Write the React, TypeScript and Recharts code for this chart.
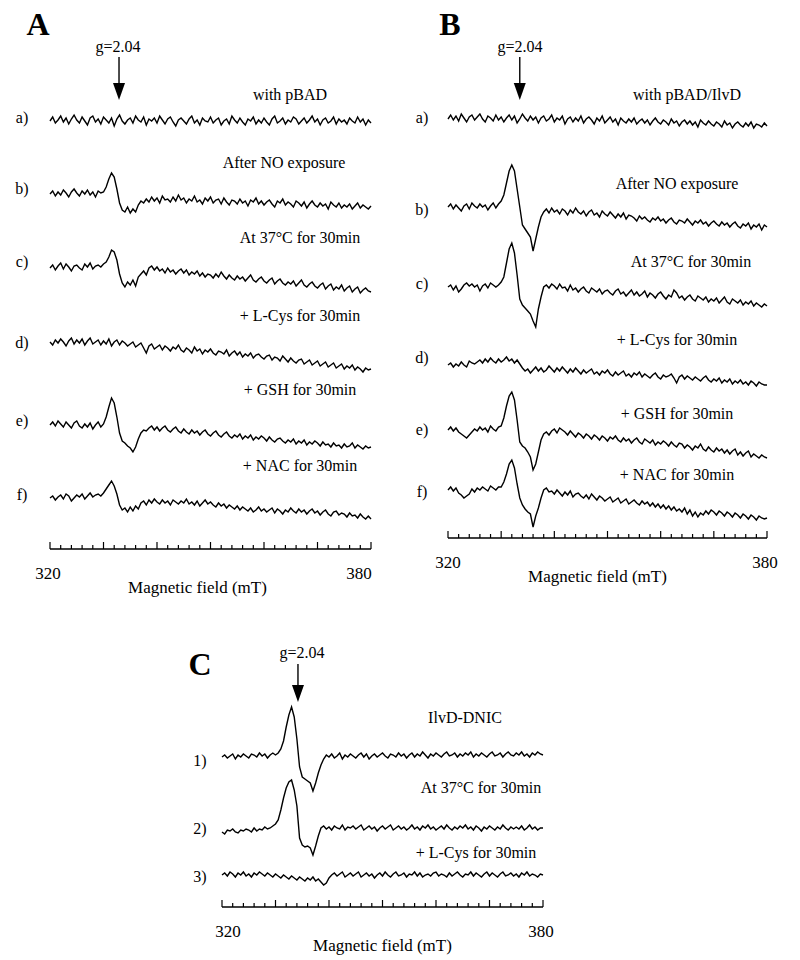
import React from 'react';
import { LineChart, Line, XAxis, YAxis, ReferenceLine } from 'recharts';

// field sweep: 320 -> 380 mT, one reading every 0.5 mT (121 points per spectrum)
const FIELD_START = 320;
const FIELD_STEP = 0.5;

const TICK_VALUES = [
  320, 322, 324, 326, 328, 330, 332, 334, 336, 338, 340, 342, 344, 346, 348, 350,
  352, 354, 356, 358, 360, 362, 364, 366, 368, 370, 372, 374, 376, 378, 380,
];
const MAJOR_TICKS = [320, 330, 340, 350, 360, 370, 380];
const LABELLED_TICKS = [320, 380];

const A_ROWS = ['a)', 'b)', 'c)', 'd)', 'e)', 'f)'];
const A_CONDITIONS = ['with pBAD', 'After NO exposure', 'At 37°C for 30min', '+ L-Cys for 30min', '+ GSH for 30min', '+ NAC for 30min'];
const B_ROWS = ['a)', 'b)', 'c)', 'd)', 'e)', 'f)'];
const B_CONDITIONS = ['with pBAD/IlvD', 'After NO exposure', 'At 37°C for 30min', '+ L-Cys for 30min', '+ GSH for 30min', '+ NAC for 30min'];
const C_ROWS = ['1)', '2)', '3)'];
const C_CONDITIONS = ['IlvD-DNIC', 'At 37°C for 30min', '+ L-Cys for 30min'];

// EPR signal, arbitrary units, relative to each trace's own baseline
const A_PBAD = [
  0, 4, -2, 1, 5, -1, 3, -3, 2, 6,
  1, -2, 4, 0, -4, 3, 5, -1, 2, -3,
  4, 1, -2, 3, -5, 2, 6, 0, -3, 1,
  3, -2, 5, 1, -1, 4, -4, 2, 0, 3,
  -2, 5, 1, -3, 2, 4, -1, -5, 1, 3,
  0, -3, 2, 5, -2, 1, -4, 3, 0, -1,
  4, -2, 1, 3, -4, 0, 2, -3, 5, 1,
  -2, 3, -1, -4, 2, 0, 4, -3, 1, -2,
  3, -1, -4, 2, 5, -2, 0, 3, -3, 1,
  -1, 4, 2, -3, 0, 3, -2, 1, 5, -1,
  2, -4, 1, 3, -2, 0, 4, -3, 2, -1,
  1, -3, 3, 0, -2, 4, -1, 2, -4, 1,
  -2,
];
const A_NO = [
  1, 4, -1, 3, 0, 5, 2, -2, 3, 6,
  2, -1, 4, 1, 5, 0, 3, -2, 4, 2,
  3, 8, 16, 22, 18, 6, -8, -15, -17, -12,
  -18, -14, -17, -10, -6, -8, -4, -7, -2, -6,
  -3, -8, -1, -5, -4, -7, -2, -6, 0, -5,
  -3, -8, -4, -6, -1, -7, -5, -9, -3, -6,
  -2, -8, -5, -4, -9, -3, -7, -10, -5, -6,
  -9, -4, -8, -6, -11, -5, -7, -3, -9, -6,
  -10, -7, -5, -9, -12, -6, -8, -4, -10, -7,
  -9, -12, -6, -8, -11, -7, -13, -9, -6, -10,
  -12, -8, -11, -9, -14, -7, -10, -12, -8, -13,
  -10, -12, -9, -14, -11, -8, -13, -10, -12, -14,
  -11,
];
const A_37C = [
  0, 3, -2, 2, 5, -1, 4, 1, -3, 2,
  3, 0, -2, 4, 1, 5, -1, 2, 3, 1,
  4, 6, 11, 18, 16, 8, -6, -15, -19, -14,
  -17, -12, -18, -9, -6, -3, -7, 0, 2, -2,
  1, -3, -1, -5, 0, -4, -2, -6, -3, -1,
  -5, -2, -7, -4, -6, -3, -8, -5, -9, -6,
  -7, -10, -6, -9, -4, -8, -11, -7, -10, -12,
  -8, -11, -9, -13, -10, -7, -12, -14, -11, -9,
  -13, -15, -12, -10, -16, -13, -11, -15, -17, -14,
  -16, -13, -18, -15, -12, -17, -19, -16, -14, -18,
  -20, -17, -15, -21, -18, -16, -22, -19, -21, -17,
  -23, -20, -18, -24, -21, -19, -25, -22, -20, -23,
  -24,
];
const A_LCYS = [
  0, -3, 2, -1, 3, 0, -4, 1, 4, -2,
  2, -1, 3, -3, 1, 4, -2, 0, 2, -3,
  1, -2, 3, -4, 0, 2, -3, 1, -1, -4,
  -2, 0, -5, -3, -1, -6, -11, -4, -2, -7,
  -5, -3, -8, -4, -6, -9, -5, -7, -3, -8,
  -10, -6, -8, -11, -5, -9, -7, -12, -8, -10,
  -7, -11, -13, -9, -10, -12, -8, -14, -11, -9,
  -13, -10, -15, -12, -14, -11, -16, -13, -12, -15,
  -17, -14, -13, -18, -15, -16, -19, -14, -17, -20,
  -16, -19, -21, -18, -17, -22, -20, -18, -23, -21,
  -19, -24, -22, -20, -25, -23, -21, -26, -24, -22,
  -27, -24, -26, -23, -28, -25, -27, -30, -26, -28,
  -27,
];
const A_GSH = [
  0, 3, -1, 4, 1, -2, 3, 0, -3, 2,
  4, -1, -3, 1, -2, 2, -4, 0, 3, -2,
  1, 8, 18, 27, 22, 8, -8, -16, -18, -21,
  -23, -27, -22, -14, -8, -5, -6, -3, -1, -5,
  -2, -6, -3, -1, -5, -7, -4, -2, -6, -8,
  -4, -7, -9, -5, -8, -6, -10, -7, -5, -9,
  -11, -8, -6, -10, -12, -9, -7, -11, -13, -10,
  -12, -9, -14, -11, -13, -10, -15, -12, -14, -11,
  -13, -16, -12, -15, -17, -14, -13, -16, -18, -15,
  -17, -14, -19, -16, -18, -15, -20, -17, -19, -16,
  -18, -21, -17, -20, -19, -22, -18, -21, -20, -23,
  -19, -22, -21, -18, -23, -20, -22, -24, -21, -23,
  -22,
];
const A_NAC = [
  0, 2, -2, 1, 3, -1, 4, 2, -3, 0,
  3, 1, 4, -1, 2, 5, 1, 3, 4, 2,
  5, 9, 13, 17, 12, 4, -7, -12, -10, -14,
  -9, -13, -8, -11, -5, -3, -7, -2, -5, -1,
  -4, -6, -2, -5, -3, -7, -2, -4, -6, -3,
  -5, -1, -6, -4, -7, -3, -8, -5, -2, -6,
  -4, -7, -9, -5, -8, -6, -10, -7, -9, -11,
  -8, -12, -9, -11, -13, -10, -14, -12, -9, -13,
  -11, -14, -12, -10, -15, -11, -13, -16, -12, -14,
  -10, -13, -15, -11, -14, -12, -16, -13, -11, -15,
  -13, -17, -14, -12, -16, -18, -14, -13, -17, -15,
  -16, -19, -15, -18, -17, -20, -16, -19, -21, -18,
  -21,
];

const B_PBAD_ILVD = [
  0, 4, -1, 3, -2, 5, 1, -3, 2, 4,
  -1, 2, 5, 0, -3, 3, 1, -2, 4, -1,
  2, -3, 1, 4, -1, 3, -4, 0, 5, 1,
  -2, 3, -1, 2, -4, 1, 3, -2, 0, 4,
  -3, 1, -1, 3, -5, 0, 2, -3, 1, -2,
  3, -4, 0, 2, -1, -5, 1, -2, 3, -4,
  -1, 2, -3, 0, -6, 1, -2, -4, 0, -3,
  1, -5, -2, 0, -4, -1, -6, -2, 1, -3,
  -5, -1, -3, -6, 0, -4, -2, -7, -3, -1,
  -5, -2, -6, -3, -8, -1, -4, -6, -2, -5,
  -7, -3, -5, -8, -2, -6, -4, -9, -5, -3,
  -6, -8, -4, -7, -3, -9, -5, -6, -8, -4,
  -7,
];
const B_NO = [
  0, 3, -2, 2, -1, -4, 1, 3, -2, 4,
  1, -1, 3, 0, 2, -3, 1, 4, -1, 3,
  6, 12, 24, 36, 42, 36, 18, 0, -18, -22,
  -26, -30, -44, -32, -20, -10, -5, -2, -6, -1,
  -5, -3, -7, -2, -4, -8, -3, -6, -1, -5,
  -7, -4, -9, -5, -3, -8, -6, -10, -4, -7,
  -9, -5, -8, -11, -7, -10, -6, -12, -8, -9,
  -11, -14, -9, -12, -10, -13, -15, -11, -13, -10,
  -14, -12, -16, -13, -11, -15, -17, -13, -14, -16,
  -12, -15, -18, -14, -16, -13, -17, -15, -19, -16,
  -14, -17, -19, -15, -18, -16, -20, -17, -15, -19,
  -21, -17, -19, -16, -22, -18, -20, -17, -23, -18,
  -20,
];
const B_37C = [
  0, 2, -3, 1, -5, -2, 2, 4, 1, 3,
  0, 2, -4, 1, 3, -1, 4, 2, 0, 2,
  5, 10, 24, 38, 44, 34, 12, -12, -18, -21,
  -24, -27, -34, -40, -22, -10, 0, 2, -1, 3,
  1, -2, 3, -1, 0, -4, 2, -3, -1, -5,
  -2, 0, -4, -6, -1, -3, -5, -2, -7, -4,
  -3, -6, -8, -4, -2, -7, -5, -9, -6, -3,
  -8, -5, -9, -7, -4, -10, -6, -8, -11, -7,
  -5, -9, -12, -8, -10, -3, -6, -11, -9, -13,
  -10, -8, -12, -14, -9, -11, -13, -10, -15, -12,
  -14, -11, -16, -13, -10, -15, -17, -12, -14, -16,
  -13, -18, -15, -17, -14, -19, -16, -18, -20, -17,
  -19,
];
const B_LCYS = [
  0, 2, -2, 1, -1, 3, 0, -2, 4, 2,
  1, 3, 5, 2, 6, 3, 7, 4, 2, 6,
  3, 5, 8, 4, 6, 2, 5, 1, -3, -6,
  -4, -8, -5, -2, -6, -3, -7, -5, -1, -4,
  -7, -3, -6, -2, -5, -8, -4, -7, -3, -6,
  -9, -5, -8, -6, -4, -9, -7, -10, -6, -8,
  -5, -9, -11, -7, -10, -8, -6, -11, -9, -12,
  -8, -10, -7, -12, -9, -11, -13, -10, -8, -12,
  -14, -10, -12, -11, -9, -13, -18, -12, -10, -14,
  -11, -13, -15, -12, -14, -16, -13, -11, -15, -17,
  -14, -16, -13, -18, -15, -17, -14, -19, -16, -18,
  -15, -19, -17, -20, -16, -18, -21, -17, -19, -20,
  -20,
];
const B_GSH = [
  0, 3, -1, 2, -2, -4, -6, -8, -5, -2,
  1, -1, 3, 0, 2, -2, 4, 1, -1, 3,
  4, 12, 24, 34, 38, 30, 10, -12, -16, -18,
  -22, -27, -40, -34, -22, -10, -4, -2, -5, -1,
  1, -3, 2, 0, -2, -5, -1, -4, -7, -3,
  -5, -8, -4, -6, -9, -5, -7, -10, -6, -8,
  -11, -7, -9, -6, -10, -12, -8, -11, -9, -13,
  -10, -8, -12, -14, -9, -11, -13, -10, -15, -12,
  -14, -11, -13, -16, -12, -15, -17, -13, -14, -18,
  -15, -17, -20, -16, -18, -14, -19, -21, -17, -20,
  -22, -18, -21, -19, -23, -20, -24, -21, -19, -25,
  -22, -26, -23, -21, -27, -24, -26, -28, -25, -27,
  -28,
];
const B_NAC = [
  0, 3, -1, 2, -3, -5, -8, -6, -4, 1,
  -2, 2, 0, 3, 1, -1, 4, 2, 0, 3,
  3, 8, 16, 26, 30, 22, 6, -8, -15, -19,
  -22, -24, -37, -26, -18, -8, 0, 2, -2, -1,
  -4, 0, -3, -6, -2, -5, -1, -7, -4, -3,
  -6, -8, -5, -9, -4, -7, -10, -6, -8, -11,
  -9, -7, -12, -10, -8, -13, -11, -9, -14, -12,
  -10, -13, -15, -11, -14, -12, -16, -13, -17, -14,
  -18, -15, -19, -16, -20, -17, -21, -19, -22, -18,
  -24, -20, -26, -22, -27, -23, -25, -21, -24, -20,
  -22, -25, -21, -23, -26, -22, -24, -27, -23, -25,
  -28, -24, -26, -29, -25, -27, -30, -26, -28, -29,
  -28,
];

const C_DNIC = [
  0, 2, -1, 1, 3, -2, 2, 0, 3, 1,
  -1, 3, 2, 0, 4, 1, 3, -1, 2, 4,
  2, 4, 8, 16, 30, 42, 50, 40, 18, -10,
  -20, -22, -24, -26, -34, -26, -16, -8, -2, 2,
  0, 3, -1, 1, 4, -2, 2, 0, 3, 1,
  -1, 2, 4, 0, 3, -2, 1, 3, 0, 2,
  4, 1, -1, 3, 2, 0, 4, 1, 3, -1,
  2, 4, 0, 3, 1, 5, 2, -1, 3, 1,
  4, 2, 0, 3, 5, 1, 2, 4, 0, 3,
  1, 4, 2, 5, 0, 3, 1, 4, 2, 0,
  3, 5, 1, 2, 4, 0, 3, 5, 2, 1,
  4, 2, 5, 1, 3, 0, 4, 2, 5, 3,
  2,
];
const C_37C = [
  0, -2, 2, 1, 3, 0, -1, 2, 1, 3,
  2, 0, 4, 1, 3, 2, 5, 3, 4, 6,
  8, 12, 22, 34, 44, 50, 52, 42, 26, -6,
  -13, -15, -14, -16, -23, -14, -4, 4, 6, 3,
  5, 2, 6, 4, 3, 7, 2, 5, 4, 6,
  3, 5, 7, 2, 4, 6, 3, 5, 1, 4,
  6, 3, 5, 7, 2, 4, 6, 3, 5, 2,
  4, 7, 3, 5, 2, 6, 4, 7, 3, 5,
  2, 4, 6, 3, 7, 4, 2, 5, 3, 6,
  4, 7, 3, 5, 2, 6, 4, 1, 5, 3,
  6, 4, 2, 5, 3, 7, 4, 2, 5, 3,
  5, 3, 6, 2, 4, 7, 3, 5, 2, 4,
  4,
];
const C_LCYS = [
  0, 2, -1, 3, 1, -2, 2, 0, 3, -1,
  1, -2, 2, 0, 3, 1, -1, 2, 0, -2,
  1, -1, -3, 0, -2, -4, -1, -3, -5, -2,
  -4, -6, -3, -5, -2, -6, -4, -7, -10, -8,
  -3, 0, 2, -1, 1, 3, -2, 0, 2, -1,
  1, 3, -2, 0, 2, -1, 1, -3, 0, 2,
  -1, 3, 0, -2, 1, 3, -1, 0, 2, -2,
  1, 0, 3, -1, 2, -2, 0, 1, -1, 2,
  3, -1, 1, 0, -2, 2, -1, 1, 3, 0,
  -2, 1, 0, 3, -1, 2, 0, -2, 1, 3,
  -1, 2, 0, -2, 1, 3, -1, 0, 2, -1,
  1, -2, 2, 0, 3, -1, 1, 0, -2, 1,
  0,
];

const SERIF = '"Liberation Serif", "Times New Roman", serif';

type Panel = {
  letter: string;
  letterPos: [number, number];
  left: number;
  top: number;
  width: number;
  axisY: number;
  x0: number;
  x1: number;
  traces: number[][];
  baselines: number[];
  rows: string[];
  rowPos: [number, number][];
  conditions: string[];
  condPos: [number, number][];
  gField: number;
  gLabel: [number, number];
  arrow: [number, number]; // page y of shaft start and tip
  labelShift: Record<number, number>;
  titleDx: number;
};

const PANELS: Panel[] = [
  {
    letter: 'A', letterPos: [38, 24],
    left: 0, top: 0, width: 400, axisY: 549, x0: 50, x1: 371,
    traces: [A_PBAD, A_NO, A_37C, A_LCYS, A_GSH, A_NAC],
    baselines: [121, 195, 268, 342, 425, 498],
    rows: A_ROWS,
    rowPos: [[22, 118], [22, 189], [22, 262], [22, 343], [22, 421], [22, 495]],
    conditions: A_CONDITIONS,
    condPos: [[290, 95], [284, 163], [300, 238], [300, 316], [300, 390], [300, 466]],
    gField: 332.9, gLabel: [118, 47], arrow: [57, 100],
    labelShift: { 320: -2, 380: -12 }, titleDx: -13,
  },
  {
    letter: 'B', letterPos: [450, 24],
    left: 400, top: 0, width: 400, axisY: 538, x0: 448, x1: 767,
    traces: [B_PBAD_ILVD, B_NO, B_37C, B_LCYS, B_GSH, B_NAC],
    baselines: [119, 207, 287, 365, 430, 490],
    rows: B_ROWS,
    rowPos: [[422, 118], [422, 210], [422, 284], [422, 358], [422, 430], [422, 492]],
    conditions: B_CONDITIONS,
    condPos: [[687, 95], [677, 184], [691, 262], [677, 340], [677, 414], [677, 475]],
    gField: 333.5, gLabel: [520, 47], arrow: [57, 100],
    labelShift: { 320: 0, 380: -2 }, titleDx: -10,
  },
  {
    letter: 'C', letterPos: [200, 664],
    left: 170, top: 600, width: 400, axisY: 907, x0: 222, x1: 543,
    traces: [C_DNIC, C_37C, C_LCYS],
    baselines: [757, 832, 875],
    rows: C_ROWS,
    rowPos: [[200, 761], [200, 829], [200, 877]],
    conditions: C_CONDITIONS,
    condPos: [[465, 718], [481, 788], [476, 853]],
    gField: 334.2, gLabel: [302, 653], arrow: [664, 702],
    labelShift: { 320: 6, 380: -2 }, titleDx: 0,
  },
];

const AXIS_H = 50;

function buildTable(p: Panel) {
  return p.traces[0].map((_, i) => {
    const row: Record<string, number> = { field: FIELD_START + i * FIELD_STEP };
    p.traces.forEach((t, k) => {
      row['t' + k] = p.axisY - p.baselines[k] + t[i];
    });
    return row;
  });
}

const FieldTick = (props: any) => {
  const { x, y, payload, shift } = props;
  const v = payload.value;
  const major = MAJOR_TICKS.includes(v);
  return (
    <g>
      <line x1={x} x2={x} y1={y} y2={y - (major ? 7 : 4)} stroke="#000" strokeWidth={1.2} />
      {LABELLED_TICKS.includes(v) && (
        <text x={x + (shift[v] || 0)} y={y + 30} textAnchor="middle" fontSize={17} fontFamily={SERIF} fill="#000">
          {v}
        </text>
      )}
    </g>
  );
};

const arrowShape = (props: any) => {
  const { x1, y1, x2, y2 } = props;
  return (
    <g>
      <line x1={x1} y1={y1} x2={x2} y2={y2 - 14} stroke="#000" strokeWidth={1.4} />
      <path d={`M${x2 - 6},${y2 - 17} L${x2 + 6},${y2 - 17} L${x2},${y2} Z`} fill="#000" />
    </g>
  );
};

const Text = ({ pos, children, size = 16, bold = false }: any) => (
  <span
    style={{
      position: 'absolute', left: pos[0], top: pos[1], transform: 'translate(-50%, -50%)',
      fontFamily: SERIF, fontSize: size, fontWeight: bold ? 700 : 400, lineHeight: 1,
      whiteSpace: 'nowrap', color: '#000',
    }}
  >
    {children}
  </span>
);

function SpectrumPanel({ p }: { p: Panel }) {
  const height = p.axisY - p.top + AXIS_H;
  const plotH = p.axisY - p.top;
  const data = buildTable(p);
  return (
    <>
      <div style={{ position: 'absolute', left: p.left, top: p.top }}>
        <LineChart
          width={p.width}
          height={height}
          data={data}
          margin={{ top: 0, bottom: 0, left: p.x0 - p.left, right: p.left + p.width - p.x1 }}
        >
          <XAxis
            dataKey="field"
            type="number"
            domain={[320, 380]}
            ticks={TICK_VALUES}
            interval={0}
            height={AXIS_H}
            tickSize={0}
            tickMargin={0}
            tickLine={false}
            axisLine={{ stroke: '#000', strokeWidth: 1.5 }}
            tick={(tp: any) => <FieldTick {...tp} shift={p.labelShift} />}
            label={{
              value: 'Magnetic field (mT)', position: 'insideBottom', offset: 6, dx: p.titleDx,
              style: { fontFamily: SERIF, fontSize: 17, fill: '#000' },
            }}
          />
          <YAxis hide type="number" domain={[0, plotH]} allowDataOverflow />
          {p.traces.map((_, k) => (
            <Line
              key={k}
              dataKey={'t' + k}
              type="linear"
              stroke="#000"
              strokeWidth={1.4}
              dot={false}
              isAnimationActive={false}
            />
          ))}
          <ReferenceLine
            segment={[
              { x: p.gField, y: p.axisY - p.arrow[0] },
              { x: p.gField, y: p.axisY - p.arrow[1] },
            ]}
            shape={arrowShape}
          />
        </LineChart>
      </div>
      <Text pos={p.letterPos} size={32} bold>{p.letter}</Text>
      <Text pos={p.gLabel}>g=2.04</Text>
      {p.rows.map((r, k) => (
        <Text key={'r' + k} pos={p.rowPos[k]}>{r}</Text>
      ))}
      {p.conditions.map((c, k) => (
        <Text key={'c' + k} pos={p.condPos[k]}>{c}</Text>
      ))}
    </>
  );
}

export default function App() {
  return (
    <div style={{ position: 'absolute', left: 0, top: 0, width: 800, height: 960, background: '#fff' }}>
      {PANELS.map((p) => (
        <SpectrumPanel key={p.letter} p={p} />
      ))}
    </div>
  );
}
